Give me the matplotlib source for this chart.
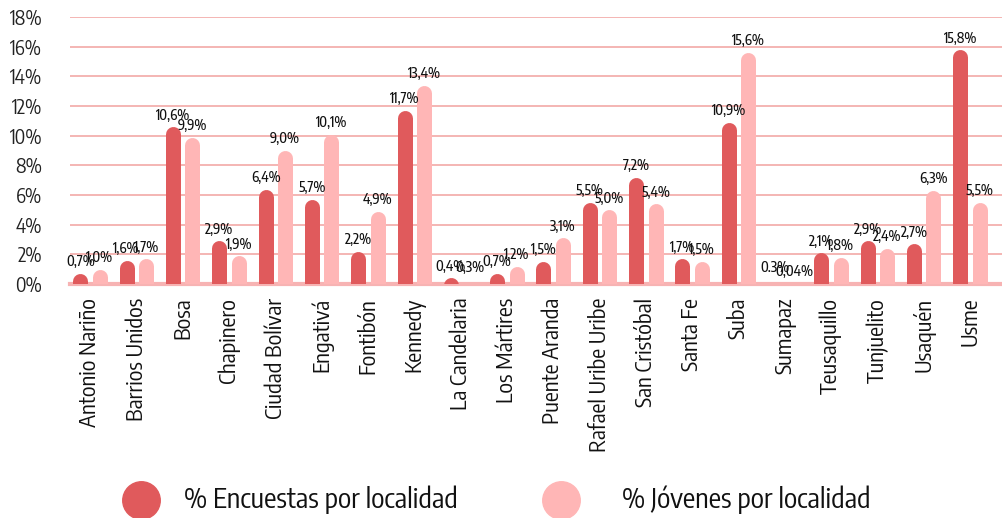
import matplotlib
matplotlib.use("Agg")
import matplotlib.pyplot as plt
from matplotlib.lines import Line2D
import numpy as np

plt.rcParams['font.family'] = ['Encode Sans Condensed', 'PT Sans Narrow', 'DejaVu Sans']

localidades = ["Antonio Nariño", "Barrios Unidos", "Bosa", "Chapinero", "Ciudad Bolívar",
               "Engativá", "Fontibón", "Kennedy", "La Candelaria", "Los Mártires",
               "Puente Aranda", "Rafael Uribe Uribe", "San Cristóbal", "Santa Fe", "Suba",
               "Sumapaz", "Teusaquillo", "Tunjuelito", "Usaquén", "Usme"]
encuestas = [0.7, 1.6, 10.6, 2.9, 6.4, 5.7, 2.2, 11.7, 0.4, 0.7,
             1.5, 5.5, 7.2, 1.7, 10.9, 0.3, 2.1, 2.9, 2.7, 15.8]
jovenes = [1.0, 1.7, 9.9, 1.9, 9.0, 10.1, 4.9, 13.4, 0.3, 1.2,
           3.1, 5.0, 5.4, 1.5, 15.6, 0.04, 1.8, 2.4, 6.3, 5.5]
etiq_encuestas = ["0,7%", "1,6%", "10,6%", "2,9%", "6,4%", "5,7%", "2,2%", "11,7%", "0,4%", "0,7%",
                  "1,5%", "5,5%", "7,2%", "1,7%", "10,9%", "0.3%", "2,1%", "2,9%", "2,7%", "15,8%"]
etiq_jovenes = ["1,0%", "1,7%", "9,9%", "1,9%", "9,0%", "10,1%", "4,9%", "13,4%", "0,3%", "1,2%",
                "3,1%", "5,0%", "5,4%", "1,5%", "15,6%", "0,04%", "1,8%", "2,4%", "6,3%", "5,5%"]
yticks = [0, 2, 4, 6, 8, 10, 12, 14, 16, 18]
series_names = ["% Encuestas por localidad", "% Jóvenes por localidad"]

red = "#E05A5C"
pink = "#FFB6B6"
grid_col = "#F2A9A7"

fig = plt.figure(figsize=(10.02, 5.18), dpi=100)
ax = fig.add_axes([0.07, 0.452, 0.93, 0.515])
ax.set_xlim(-0.43, 19.69)
ax.set_ylim(0, 18)

for s in ax.spines.values():
    s.set_visible(False)

for t in yticks[1:]:
    ax.axhline(t, color=grid_col, lw=1.2, zorder=1)
ax.axhline(0, color="#F7B3B3", lw=3, zorder=1, clip_on=False)

lw = 10.8  # points
ax_h_px = 0.515 * 518
r = (lw / 2 * 100 / 72) / (ax_h_px / 18)  # cap radius in data units

x = np.arange(len(localidades))
off = 0.21
for vals, labels, col, dx in [(encuestas, etiq_encuestas, red, -off), (jovenes, etiq_jovenes, pink, off)]:
    for xi, v, lab in zip(x, vals, labels):
        y1 = v - r
        y0 = min(0, y1 - 0.01)
        ax.plot([xi + dx, xi + dx], [y0, y1], color=col, lw=lw,
                solid_capstyle='round', zorder=3)
        ax.annotate(lab, (xi + dx, v), xytext=(0, 3), textcoords='offset points',
                    ha='center', va='bottom', fontsize=10, fontweight=500,
                    color='#111111', zorder=4)

ax.set_yticks(yticks)
ax.set_yticklabels([f"{t}%" for t in yticks], fontsize=14, color='#222222')
ax.set_xticks(x)
ax.set_xticklabels(localidades, rotation=90, fontsize=16, color='#111111')
ax.tick_params(axis='both', length=0)
ax.tick_params(axis='y', pad=20)
ax.tick_params(axis='x', pad=10)

# legend
for cx, tx, col, name in [(0.141, 0.184, red, series_names[0]), (0.560, 0.621, pink, series_names[1])]:
    fig.add_artist(Line2D([cx], [0.035], marker='o', markersize=27, color=col,
                          transform=fig.transFigure, linestyle='none'))
    fig.text(tx, 0.035, name, fontsize=20, va='center', ha='left', color='#111111')

fig.savefig("out.png", dpi=100)
